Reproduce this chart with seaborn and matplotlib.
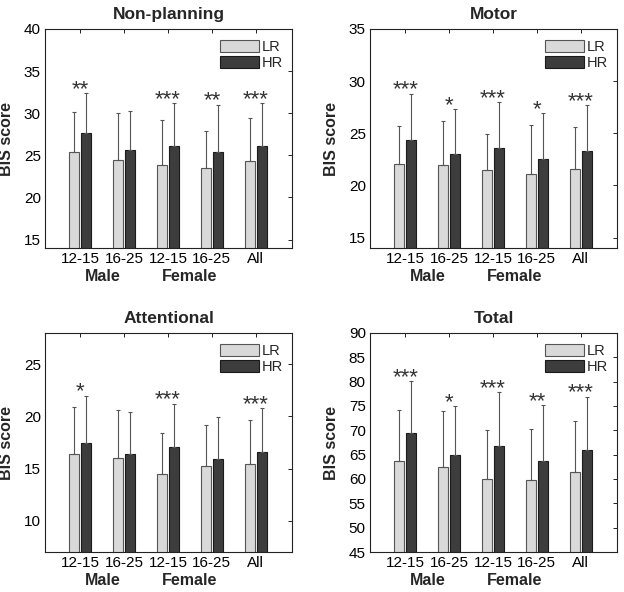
import numpy as np
import pandas as pd
import seaborn as sns
import matplotlib.pyplot as plt
from matplotlib.patches import Patch
from matplotlib.transforms import blended_transform_factory

# categories (x axis) and their display labels
categories = ["M 12-15", "M 16-25", "F 12-15", "F 16-25", "All"]
tick_labels = ["12-15", "16-25", "12-15", "16-25", "All"]
sex_labels = ["Male", "Female"]
risk_levels = ["LR", "HR"]

# Non-planning
np_lr = [25.4, 24.5, 23.8, 23.5, 24.3]
np_lr_sd = [4.8, 5.5, 5.4, 4.4, 5.1]
np_hr = [27.6, 25.6, 26.1, 25.4, 26.1]
np_hr_sd = [4.8, 4.7, 5.1, 5.6, 5.1]
np_sig = ["**", "", "***", "**", "***"]

# Motor
mo_lr = [22.1, 22.0, 21.5, 21.1, 21.6]
mo_lr_sd = [3.6, 4.2, 3.4, 4.7, 4.0]
mo_hr = [24.4, 23.0, 23.6, 22.5, 23.3]
mo_hr_sd = [4.4, 4.3, 4.4, 4.4, 4.4]
mo_sig = ["***", "*", "***", "*", "***"]

# Attentional
at_lr = [16.4, 16.0, 14.5, 15.2, 15.4]
at_lr_sd = [4.5, 4.6, 3.9, 4.0, 4.3]
at_hr = [17.5, 16.4, 17.1, 15.9, 16.6]
at_hr_sd = [4.5, 4.0, 4.1, 4.0, 4.2]
at_sig = ["*", "", "***", "", "***"]

# Total
to_lr = [63.8, 62.4, 59.9, 59.7, 61.4]
to_lr_sd = [10.4, 11.5, 10.1, 10.6, 10.6]
to_hr = [69.5, 65.0, 66.7, 63.8, 66.0]
to_hr_sd = [10.6, 10.0, 11.1, 11.4, 10.9]
to_sig = ["***", "*", "***", "**", "***"]

panels = [
    ("Non-planning", np_lr, np_lr_sd, np_hr, np_hr_sd, np_sig, (14, 40), np.arange(15, 41, 5)),
    ("Motor", mo_lr, mo_lr_sd, mo_hr, mo_hr_sd, mo_sig, (14, 35), np.arange(15, 36, 5)),
    ("Attentional", at_lr, at_lr_sd, at_hr, at_hr_sd, at_sig, (7, 28), np.arange(10, 26, 5)),
    ("Total", to_lr, to_lr_sd, to_hr, to_hr_sd, to_sig, (45, 90), np.arange(45, 91, 5)),
]

sns.set_style("white")
plt.rcParams["font.family"] = ["Liberation Sans", "DejaVu Sans"]

colors = {"LR": "#d9d9d9", "HR": "#3d3d3d"}
edges = {"LR": "#555555", "HR": "#1a1a1a"}

fig = plt.figure(figsize=(6.24, 5.92), dpi=100)
rects = [
    [45 / 624, 1 - 248 / 592, 247 / 624, 219 / 592],
    [370 / 624, 1 - 248 / 592, 247 / 624, 219 / 592],
    [45 / 624, 1 - 552 / 592, 247 / 624, 219 / 592],
    [370 / 624, 1 - 552 / 592, 247 / 624, 219 / 592],
]

for rect, (title, lr, lr_sd, hr, hr_sd, sig, ylim, yticks) in zip(rects, panels):
    ax = fig.add_axes(rect)
    df = pd.DataFrame({
        "group": categories * 2,
        "risk": ["LR"] * len(categories) + ["HR"] * len(categories),
        "score": lr + hr,
        "sd": lr_sd + hr_sd,
    })
    sns.barplot(data=df, x="group", y="score", hue="risk", order=categories,
                hue_order=risk_levels, palette=colors, width=0.55, gap=0.17,
                errorbar=None, legend=False, ax=ax)

    # one-sided SD error bars on top of each bar
    for cont, risk in zip(ax.containers, risk_levels):
        sds = df.loc[df["risk"] == risk, "sd"].values
        xs, ys = [], []
        for bar in cont:
            bar.set_edgecolor(edges[risk])
            bar.set_linewidth(0.8)
            xs.append(bar.get_x() + bar.get_width() / 2)
            ys.append(bar.get_height())
        ax.errorbar(xs, ys, yerr=[np.zeros(len(sds)), sds], fmt="none",
                    ecolor="#555555", elinewidth=0.8, capsize=1.5, capthick=0.8)

    # significance stars
    yr = ylim[1] - ylim[0]
    for i, s in enumerate(sig):
        if s:
            top = max(lr[i] + lr_sd[i], hr[i] + hr_sd[i])
            ax.text(i, top - 0.008 * yr, s, ha="center", va="baseline",
                    fontsize=16, color="#333333")

    ax.set_xlim(-0.81, 4.83)
    ax.set_ylim(*ylim)
    ax.set_yticks(yticks)
    ax.set_xticks(range(len(categories)))
    ax.set_xticklabels(tick_labels, fontsize=11)
    ax.tick_params(axis="y", labelsize=11)
    ax.tick_params(direction="in", top=True, right=True, length=3, width=0.6,
                   colors="black", pad=3)
    for sp in ax.spines.values():
        sp.set_color("#222222")
        sp.set_linewidth(0.8)

    ax.set_xlabel("")
    ax.set_ylabel("BIS score", fontsize=11.5, fontweight="bold")
    ax.yaxis.set_label_coords(-0.126, 0.5)
    ax.set_title(title, fontsize=12.5, fontweight="bold", pad=7)

    trans = blended_transform_factory(ax.transData, ax.transAxes)
    ax.text(0.5, -0.13, sex_labels[0], transform=trans, ha="center", va="center",
            fontsize=11.5, fontweight="bold")
    ax.text(2.5, -0.13, sex_labels[1], transform=trans, ha="center", va="center",
            fontsize=11.5, fontweight="bold")

    handles = [Patch(facecolor=colors[r], edgecolor=edges[r], linewidth=0.8) for r in risk_levels]
    ax.legend(handles, risk_levels, loc="upper right", bbox_to_anchor=(1.005, 0.995),
              frameon=False, fontsize=10.5, handlelength=2.65, handleheight=0.9,
              handletextpad=0.2, labelspacing=0.1, borderpad=0.2)

fig.savefig("out.png", dpi=100)
plt.close(fig)
